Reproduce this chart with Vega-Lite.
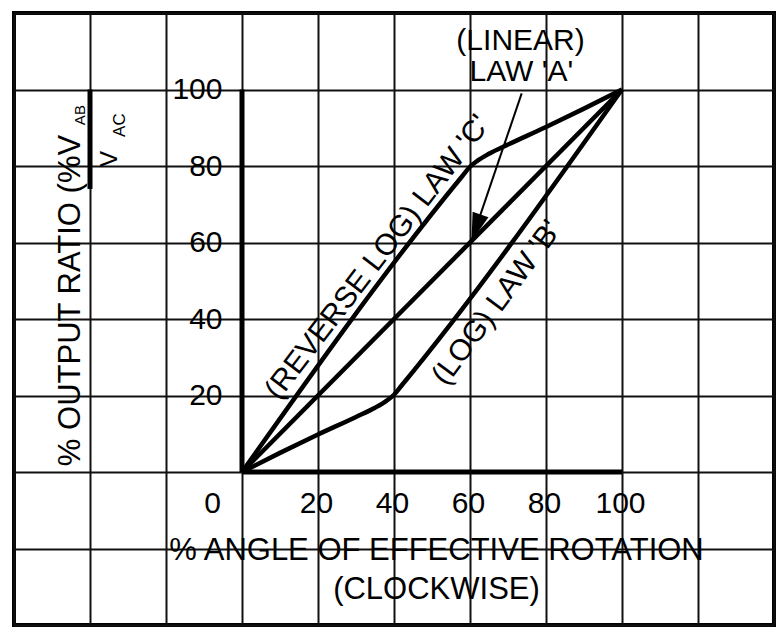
{
  "$schema": "https://vega.github.io/schema/vega-lite/v6.json",
  "width": 760,
  "height": 612,
  "autosize": {"type": "none"},
  "padding": {"left": 14, "top": 13, "right": 4, "bottom": 3},
  "background": "white",
  "config": {
    "view": {"stroke": "#000", "strokeWidth": 4},
    "axis": {
      "labelFont": "Liberation Sans",
      "titleFont": "Liberation Sans",
      "labelColor": "#000",
      "titleColor": "#000",
      "titleFontWeight": "normal",
      "gridColor": "#111",
      "gridWidth": 2,
      "gridOpacity": 1,
      "domain": false,
      "ticks": false
    },
    "text": {"font": "Liberation Sans", "color": "#000"}
  },
  "encoding": {
    "x": {
      "field": "x",
      "type": "quantitative",
      "scale": {"domain": [-60, 140], "nice": false, "zero": false},
      "axis": {
        "values": [-60, -40, -20, 0, 20, 40, 60, 80, 100, 120, 140],
        "grid": true,
        "offset": -153,
        "labelExpr": "datum.value >= 0 && datum.value <= 100 ? datum.label : ''",
        "labelFontSize": 30,
        "labelPadding": 16,
        "labelOffset": {"condition": {"test": "datum.value == 0", "value": -30}, "value": -2},
        "labelFlush": false,
        "labelOverlap": false,
        "labelBound": false,
        "title": ["% ANGLE OF EFFECTIVE ROTATION", "(CLOCKWISE)"],
        "titleFontSize": 31,
        "titleX": 422,
        "titleY": 63,
        "titleBaseline": "top",
        "titleAlign": "center",
        "titleLineHeight": 39
      }
    },
    "y": {
      "field": "y",
      "type": "quantitative",
      "scale": {"domain": [-40, 120], "nice": false, "zero": false},
      "axis": {
        "values": [-40, -20, 0, 20, 40, 60, 80, 100, 120],
        "grid": true,
        "offset": -228,
        "labelExpr": "datum.value >= 20 && datum.value <= 100 ? datum.label : ''",
        "labelFontSize": 30,
        "labelPadding": 20,
        "labelOverlap": false,
        "labelBound": false,
        "title": "% OUTPUT RATIO (%V",
        "titleFontSize": 31,
        "titleAngle": -90,
        "titleX": -163,
        "titleY": 287,
        "titleBaseline": "alphabetic",
        "titleAlign": "center"
      }
    }
  },
  "layer": [
    {
      "data": {
        "values": [
          {"law": "A", "x": 0, "y": 0},
          {"law": "A", "x": 100, "y": 100},
          {"law": "C", "x": 0, "y": 0},
          {"law": "C", "x": 58, "y": 77.4},
          {"law": "C", "x": 60, "y": 79.8},
          {"law": "C", "x": 62, "y": 81.4},
          {"law": "C", "x": 65, "y": 83.2},
          {"law": "C", "x": 70, "y": 85.6},
          {"law": "C", "x": 80, "y": 90.2},
          {"law": "C", "x": 90, "y": 95},
          {"law": "C", "x": 100, "y": 100},
          {"law": "B", "x": 0, "y": 0},
          {"law": "B", "x": 10, "y": 5},
          {"law": "B", "x": 20, "y": 9.8},
          {"law": "B", "x": 30, "y": 14.4},
          {"law": "B", "x": 35, "y": 16.8},
          {"law": "B", "x": 38, "y": 18.6},
          {"law": "B", "x": 40, "y": 20.2},
          {"law": "B", "x": 42, "y": 22.6},
          {"law": "B", "x": 100, "y": 100}
        ]
      },
      "mark": {"type": "line", "color": "#000", "strokeWidth": 4.5, "interpolate": "monotone"},
      "encoding": {"detail": {"field": "law", "type": "nominal"}}
    },
    {
      "data": {
        "values": [
          {"x": 0, "y": 0, "x2": 100, "y2": 0},
          {"x": 0, "y": 0, "x2": 0, "y2": 100},
          {"x": -40, "y": 74, "x2": -40, "y2": 100}
        ]
      },
      "mark": {"type": "rule", "color": "#000", "strokeWidth": 5},
      "encoding": {
        "x2": {"field": "x2"},
        "y2": {"field": "y2"}
      }
    },
    {
      "data": {"values": [{"x": 73.6, "y": 99, "x2": 60.6, "y2": 61}]},
      "mark": {"type": "rule", "color": "#000", "strokeWidth": 2},
      "encoding": {
        "x2": {"field": "x2"},
        "y2": {"field": "y2"}
      }
    },
    {
      "data": {"values": [{"x": 60.4, "y": 60.4}]},
      "mark": {"type": "point", "shape": "M0,0L-0.6,-2L0.6,-2Z", "size": 784, "angle": 18.8, "filled": true, "color": "#000", "opacity": 1, "strokeWidth": 0}
    },
    {
      "data": {
        "values": [
          {"x": 73.3, "y": 112.7, "label": "(LINEAR)"},
          {"x": 73.5, "y": 104.6, "label": "LAW 'A'"}
        ]
      },
      "mark": {"type": "text", "fontSize": 30, "align": "center", "baseline": "middle"},
      "encoding": {"text": {"field": "label"}}
    },
    {
      "data": {"values": [{"x": 35.7, "y": 56.1, "label": "(REVERSE LOG) LAW 'C'"}]},
      "mark": {"type": "text", "fontSize": 30, "align": "center", "baseline": "middle", "angle": -52.5},
      "encoding": {"text": {"field": "label"}}
    },
    {
      "data": {"values": [{"x": 67.1, "y": 44.2, "label": "(LOG) LAW 'B'"}]},
      "mark": {"type": "text", "fontSize": 30, "align": "center", "baseline": "middle", "angle": -53.5},
      "encoding": {"text": {"field": "label"}}
    },
    {
      "data": {"values": [{"x": -42.6, "y": 93.3, "label": "AB"}]},
      "mark": {"type": "text", "fontSize": 15, "align": "center", "baseline": "middle", "angle": -90},
      "encoding": {"text": {"field": "label"}}
    },
    {
      "data": {"values": [{"x": -34.7, "y": 81.8, "label": "V"}]},
      "mark": {"type": "text", "fontSize": 24, "align": "center", "baseline": "middle", "angle": -90},
      "encoding": {"text": {"field": "label"}}
    },
    {
      "data": {"values": [{"x": -32.1, "y": 90.7, "label": "AC"}]},
      "mark": {"type": "text", "fontSize": 17, "align": "center", "baseline": "middle", "angle": -90},
      "encoding": {"text": {"field": "label"}}
    }
  ]
}
